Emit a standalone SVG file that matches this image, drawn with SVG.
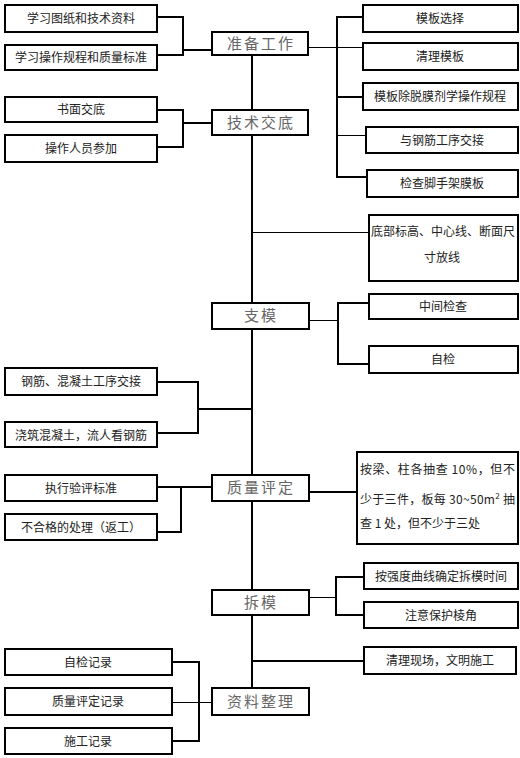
<svg xmlns="http://www.w3.org/2000/svg" width="520" height="758" viewBox="0 0 520 758">
<style>
.b{fill:#fff;stroke:#000;stroke-width:2}
.t{font-family:"Noto Sans CJK SC","Liberation Serif",serif;font-size:12px;fill:#222;text-anchor:middle}
.m{font-family:"Noto Sans CJK SC","Liberation Serif",serif;font-size:15px;fill:#666;text-anchor:middle;letter-spacing:2px}
.k{fill:none;stroke:#000;stroke-width:2}
.n{fill:none;stroke:#000;stroke-width:1}
</style>
<rect width="520" height="758" fill="#fff"/>
<g id="connectors">
<path class="k" d="M252 55V110M252 135V303M252 329V475M252 501V590M252 615V688"/>
<path class="k" d="M157 17H183V55H157M183 50H212"/>
<path class="k" d="M157 110H183V147H157M183 123H212"/>
<path class="k" d="M363 17H337V177H367M337 97H363"/>
<path class="n" d="M308 47.5H370M337 135.5H368"/>
<path class="n" d="M252 232.5H369"/>
<path class="n" d="M309 320.5H338"/>
<path class="k" d="M368 303H338V364H369"/>
<path class="k" d="M157 382H198V433H157M198 409H252"/>
<path class="k" d="M157 487H212M181 487V532H150"/>
<path class="k" d="M309 492H357"/>
<path class="n" d="M309 597.5H336"/>
<path class="k" d="M363 577H336V615H363"/>
<path class="k" d="M252 661H364"/>
<path class="k" d="M172 662H199V741H172"/>
<path class="n" d="M172 702.5H212"/>
</g>
<g id="n1"><rect class="b" x="5" y="5" width="152" height="27"/><text class="t" x="81" y="23">学习图纸和技术资料</text></g>
<g id="n2"><rect class="b" x="5" y="45" width="152" height="25"/><text class="t" x="81" y="62">学习操作规程和质量标准</text></g>
<g id="zbgz"><rect class="b" x="212" y="32" width="96" height="23"/><text class="m" x="261" y="49">准备工作</text></g>
<g id="n3"><rect class="b" x="5" y="97" width="152" height="25"/><text class="t" x="81" y="114">书面交底</text></g>
<g id="n4"><rect class="b" x="5" y="135" width="152" height="27"/><text class="t" x="81" y="153">操作人员参加</text></g>
<g id="jsjd"><rect class="b" x="212" y="110" width="96" height="25"/><text class="m" x="261" y="128">技术交底</text></g>
<g id="r1"><rect class="b" x="363" y="5" width="155" height="27"/><text class="t" x="440" y="23">模板选择</text></g>
<g id="r2"><rect class="b" x="363" y="43" width="155" height="27"/><text class="t" x="440" y="61">清理模板</text></g>
<g id="r3"><rect class="b" x="363" y="83" width="155" height="27"/><text class="t" x="440" y="101">模板除脱膜剂学操作规程</text></g>
<g id="r4"><rect class="b" x="366" y="127" width="152" height="26"/><text class="t" x="442" y="145">与钢筋工序交接</text></g>
<g id="r5"><rect class="b" x="367" y="170" width="151" height="27"/><text class="t" x="442" y="188">检查脚手架膜板</text></g>
<g id="r6"><rect class="b" x="369" y="215" width="149" height="66"/><text class="t" x="443" y="236">底部标高、中心线、断面尺</text><text class="t" x="442" y="262">寸放线</text></g>
<g id="zm"><rect class="b" x="212" y="303" width="97" height="26"/><text class="m" x="261" y="321">支模</text></g>
<g id="r7"><rect class="b" x="369" y="294" width="149" height="25"/><text class="t" x="443" y="311">中间检查</text></g>
<g id="r8"><rect class="b" x="369" y="346" width="149" height="27"/><text class="t" x="443" y="364">自检</text></g>
<g id="n5"><rect class="b" x="5" y="368" width="152" height="27"/><text class="t" x="81" y="386">钢筋、混凝土工序交接</text></g>
<g id="n6"><rect class="b" x="5" y="422" width="152" height="25"/><text class="t" x="81" y="440">浇筑混凝土，流人看钢筋</text></g>
<g id="n7"><rect class="b" x="5" y="475" width="152" height="26"/><text class="t" x="81" y="493">执行验评标准</text></g>
<g id="n8"><rect class="b" x="5" y="514" width="152" height="26"/><text class="t" x="81" y="532">不合格的处理（返工）</text></g>
<g id="zlpd"><rect class="b" x="212" y="475" width="97" height="26"/><text class="m" x="261" y="493">质量评定</text></g>
<g id="r9"><rect class="b" x="357" y="452" width="161" height="92"/>
<text class="t" style="text-anchor:start" x="360" y="474" textLength="155" lengthAdjust="spacing">按梁、柱各抽查 10%，但不</text>
<text class="t" style="text-anchor:start" x="360" y="504" textLength="155" lengthAdjust="spacing">少于三件，板每 30~50m<tspan font-size="8" dy="-5">2</tspan><tspan dy="5"> 抽</tspan></text>
<text class="t" style="text-anchor:start" x="360" y="528">查 1 处，但不少于三处</text></g>
<g id="cm"><rect class="b" x="212" y="590" width="97" height="25"/><text class="m" x="261" y="608">拆模</text></g>
<g id="r10"><rect class="b" x="364" y="563" width="154" height="26"/><text class="t" x="441" y="581">按强度曲线确定拆模时间</text></g>
<g id="r11"><rect class="b" x="364" y="602" width="154" height="26"/><text class="t" x="441" y="620">注意保护棱角</text></g>
<g id="r12"><rect class="b" x="364" y="647" width="152" height="27"/><text class="t" x="440" y="665">清理现场，文明施工</text></g>
<g id="n9"><rect class="b" x="5" y="649" width="167" height="26"/><text class="t" x="88" y="667">自检记录</text></g>
<g id="n10"><rect class="b" x="5" y="688" width="167" height="27"/><text class="t" x="88" y="706">质量评定记录</text></g>
<g id="n11"><rect class="b" x="5" y="728" width="167" height="26"/><text class="t" x="88" y="746">施工记录</text></g>
<g id="zlzl"><rect class="b" x="212" y="688" width="97" height="27"/><text class="m" x="261" y="707">资料整理</text></g>
</svg>
